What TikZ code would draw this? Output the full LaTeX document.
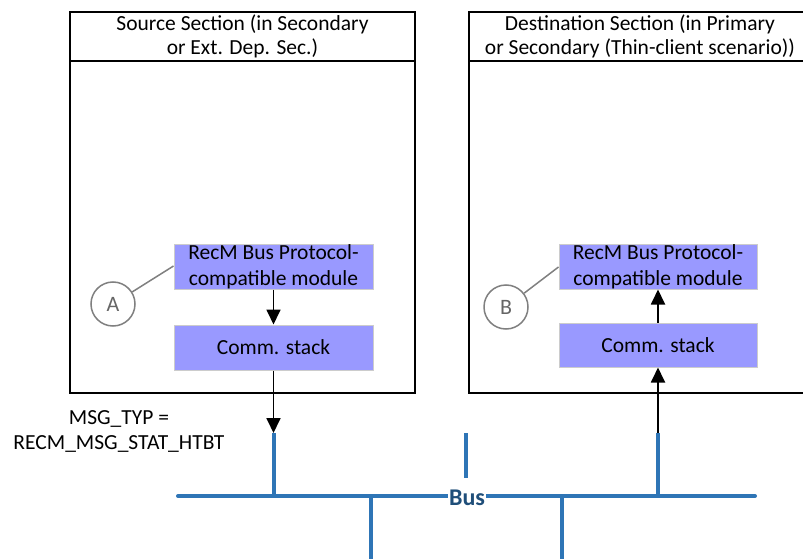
\documentclass[tikz,border=0pt]{standalone}
\usepackage{fontspec}
\setmainfont{Carlito}
\usetikzlibrary{arrows.meta,positioning}
\definecolor{modfill}{HTML}{9999FF}
\definecolor{busblue}{HTML}{2E75B6}
\definecolor{busdark}{HTML}{1F4E79}
\tikzset{
  secbox/.style={draw=black, line width=1.6pt, fill=white, inner sep=0pt},
  sechead/.style={secbox, align=center, font=\fontsize{21.5}{24}\selectfont},
  modbox/.style={draw=black!20, line width=1pt, fill=modfill, inner sep=0pt, align=center, font=\fontsize{21.5}{26}\selectfont},
  tag/.style={circle, draw=black!50, line width=1.5pt, fill=white, minimum size=44pt, inner sep=0pt, text=black!60, font=\fontsize{22}{24}\selectfont},
  tagline/.style={draw=black!50, line width=1.5pt},
  flow/.style={draw=black, line width=1.8pt, -{Triangle[length=15pt,width=14pt]}},
  bus/.style={draw=busblue, line width=4pt},
  plain/.style={font=\fontsize{21.5}{25}\selectfont, align=center},
}
\begin{document}
\begin{tikzpicture}[x=1pt,y=-1pt]
\useasboundingbox (0,0) rectangle (803,559);
% section boxes
\node[secbox, minimum width=345pt, minimum height=332pt] (bodyL) at (242.5,227) {};
\node[sechead, minimum width=345pt, minimum height=49pt] (headL) at (242.5,36.5) {Source Section (in Secondary\\or Ext. Dep. Sec.)};
\node[secbox, minimum width=342pt, minimum height=332pt] (bodyR) at (640,227) {};
\node[sechead, minimum width=342pt, minimum height=49pt] (headR) at (640,36.5) {Destination Section (in Primary\\or Secondary (Thin-client scenario))};
% modules
\node[modbox, minimum width=199pt, minimum height=45pt] (modL) at (273.5,266.5) {RecM Bus Protocol-\\compatible module};
\node[modbox, minimum width=199pt, minimum height=45pt] (stackL) at (273.5,347.5) {Comm. stack};
\node[modbox, minimum width=198pt, minimum height=45pt] (modR) at (658,266.5) {RecM Bus Protocol-\\compatible module};
\node[modbox, minimum width=198pt, minimum height=44pt] (stackR) at (658,345) {Comm. stack};
% tags
\node[tag] (tagA) at (113,304) {A};
\node[tag] (tagB) at (506,307) {B};
\draw[tagline] (tagA) -- (modL.west |- 0,266);
\draw[tagline] (tagB) -- (modR.west |- 0,267);
% bus
\coordinate (busW) at (178,496);
\coordinate (busE) at (755,496);
\coordinate (dropL) at (273.5,433);
\coordinate (dropLb) at (273.5,496);
\coordinate (dropR) at (658,433);
\coordinate (dropRb) at (658,496);
\coordinate (midT) at (466,433);
\coordinate (midB) at (466,478);
\coordinate (lowA) at (371,496);
\coordinate (lowAb) at (371,559);
\coordinate (lowB) at (562,496);
\coordinate (lowBb) at (562,559);
\draw[bus, line cap=round] (busW) -- (busE);
\draw[bus] (dropL) -- (dropLb);
\draw[bus] (dropR) -- (dropRb);
\draw[bus] (midT) -- (midB);
\draw[bus] (lowA) -- (lowAb);
\draw[bus] (lowB) -- (lowBb);
\node[fill=white, inner xsep=1pt, inner ysep=0pt, text=busdark, font=\fontsize{24}{26}\selectfont\bfseries] (buslbl) at (467,498) {Bus};
% flows
\draw[flow] (modL.south) -- (stackL.north);
\draw[flow] (stackL.south) -- (dropL);
\draw[flow] (stackR.north) -- (modR.south);
\draw[flow] (dropR) -- (stackR.south);
% message label
\node[plain] (msg) at (119,431) {MSG\_TYP =\\RECM\_MSG\_STAT\_HTBT};
\end{tikzpicture}
\end{document}
